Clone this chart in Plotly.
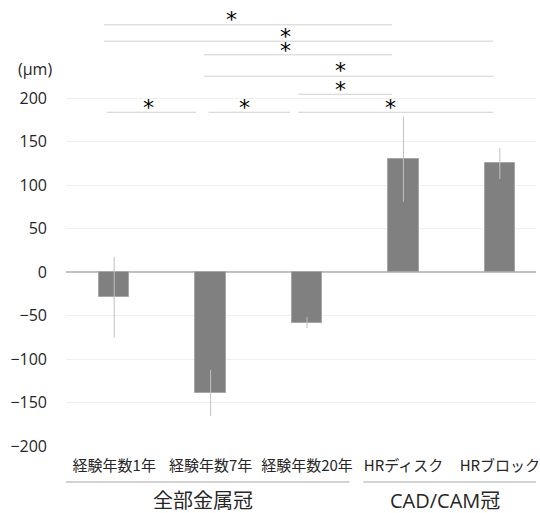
import plotly.graph_objects as go

categories = ["経験年数1年", "経験年数7年", "経験年数20年", "HRディスク", "HRブロック"]
means = [-29, -139, -58, 130, 125]
errors = [46.5, 26.5, 6.5, 49, 18]
y_ticks = [-200, -150, -100, -50, 0, 50, 100, 150, 200]

groups = ["全部金属冠", "CAD/CAM冠"]
group_spans = [(-0.53, 2.44), (2.585, 4.5)]
group_label_x = [0.92, 3.43]

# significance brackets: (x0, x1, y, star_x, star_y)
sig_lines = [
    (-0.107, 2.884, 284.5, 1.218, 291),
    (-0.107, 3.932, 265.7, 1.778, 271.5),
    (0.931, 2.884, 250.0, 1.778, 255),
    (0.931, 3.932, 225.4, 2.345, 231.5),
    (1.909, 2.884, 204.6, 2.345, 210.5),
    (-0.078, 0.85, 183.9, 0.354, 189.5),
    (0.98, 1.824, 183.9, 1.353, 189.5),
    (1.909, 3.932, 183.9, 2.869, 189.5),
]

x = list(range(len(categories)))

fig = go.Figure()
fig.add_trace(go.Bar(
    x=x, y=means, width=0.315,
    marker=dict(color="#808080", line=dict(color="#a6a6a6", width=1)),
    error_y=dict(type="data", array=errors, visible=True, color="#c0c0c0", thickness=1, width=0),
))

shapes = []
annotations = []
for x0, x1, yy, sx, sy in sig_lines:
    shapes.append(dict(type="line", xref="x", yref="y", x0=x0, x1=x1, y0=yy, y1=yy,
                       line=dict(color="#d0d0d0", width=1)))
    annotations.append(dict(x=sx, y=sy, xref="x", yref="y", text="*", showarrow=False,
                            font=dict(size=22, color="#000000", family="DejaVu Sans"),
                            yanchor="middle", xanchor="center"))

for (g0, g1), name, gx in zip(group_spans, groups, group_label_x):
    shapes.append(dict(type="line", xref="x", yref="paper", x0=g0, x1=g1, y0=-0.082, y1=-0.082,
                       line=dict(color="#a6a6a6", width=1)))
    annotations.append(dict(x=gx, y=-0.124, xref="x", yref="paper", text=name, showarrow=False,
                            font=dict(size=20, color="#262626"), yanchor="middle", xanchor="center"))

annotations.append(dict(x=-0.067, y=233.5, xref="paper", yref="y", text="(μm)", showarrow=False,
                        font=dict(size=16, color="#262626"), xanchor="center", yanchor="middle"))

fig.update_layout(
    width=540, height=513,
    margin=dict(l=66, r=0, t=7, b=67),
    plot_bgcolor="white", paper_bgcolor="white",
    showlegend=False,
    font=dict(family="Open Sans, Noto Sans CJK JP", color="#262626"),
    shapes=shapes, annotations=annotations,
    xaxis=dict(range=[-0.5, 4.375], tickvals=x, ticktext=categories, showgrid=False,
               zeroline=False, showline=False, ticks="", tickfont=dict(size=15, family="Noto Sans CJK JP", color="#262626"),
               ticklabelstandoff=9, ticklabeloverflow="allow", fixedrange=True),
    yaxis=dict(range=[-200, 305], tickvals=y_ticks, showgrid=True, gridcolor="#efefef", gridwidth=1,
               zeroline=True, zerolinecolor="#c0c0c0", zerolinewidth=1.5, showline=False, ticks="",
               tickfont=dict(size=16, color="#262626"), ticklabelstandoff=18, fixedrange=True),
    bargap=0,
)

fig.write_html("out.html", config={"displayModeBar": False},
               post_script="document.body.style.margin='0';document.body.style.overflow='hidden';")
